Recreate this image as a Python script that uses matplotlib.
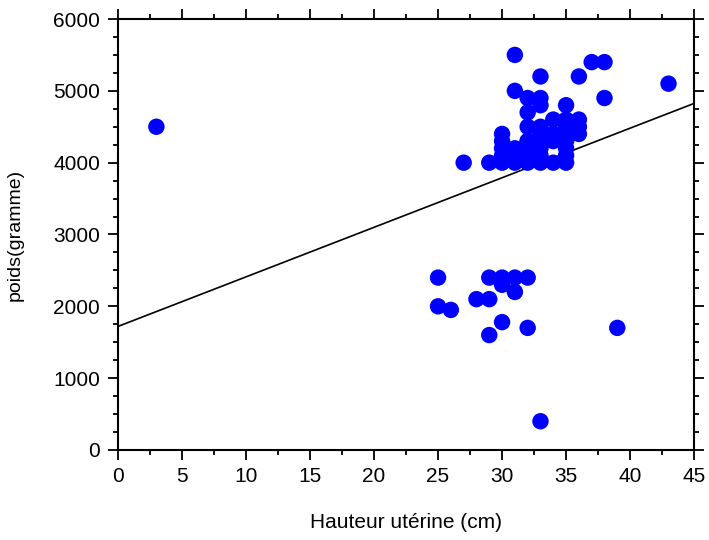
import numpy as np
import matplotlib.pyplot as plt
from matplotlib.ticker import MultipleLocator

# Hauteur utérine (cm) et poids (gramme)
hauteur = [3, 27, 29,
           30, 30, 30, 30, 30,
           31, 31, 31, 31, 31,
           32, 32, 32, 32, 32, 32, 32, 32,
           33, 33, 33, 33, 33, 33, 33, 33, 33,
           34, 34, 34, 34,
           35, 35, 35, 35, 35, 35, 35, 35,
           36, 36, 36, 36,
           37, 38, 38, 43,
           25, 25, 26, 28, 29, 29, 29, 30, 30, 30, 31, 31, 32, 32, 33, 39]
poids = [4500, 4000, 4000,
         4400, 4300, 4200, 4100, 4000,
         5500, 5000, 4200, 4100, 4000,
         4900, 4700, 4500, 4300, 4200, 4100, 4000, 4300,
         5200, 4900, 4800, 4500, 4400, 4300, 4200, 4100, 4000,
         4600, 4400, 4300, 4000,
         4800, 4600, 4500, 4400, 4300, 4200, 4100, 4000,
         5200, 4600, 4500, 4400,
         5400, 5400, 4900, 5100,
         2400, 2000, 1950, 2100, 2400, 2100, 1600, 2400, 2300, 1780, 2400, 2200, 2400, 1700, 400, 1700]

# droite de régression affichée
intercept = 1720
pente = 69

plt.rcParams['font.family'] = ['Liberation Sans', 'DejaVu Sans']

fig = plt.figure(figsize=(7.09, 5.40), dpi=100)
ax = fig.add_axes([0.1664, 0.1667, 0.8126, 0.7981])

ax.scatter(hauteur, poids, s=140, color='#0000ff', edgecolors='none', zorder=3)
xs = np.array([0, 45])
ax.plot(xs, intercept + pente * xs, color='black', lw=1.2, zorder=2)

ax.set_xlim(0, 45)
ax.set_ylim(0, 6000)
ax.xaxis.set_major_locator(MultipleLocator(5))
ax.xaxis.set_minor_locator(MultipleLocator(2.5))
ax.yaxis.set_major_locator(MultipleLocator(1000))
ax.yaxis.set_minor_locator(MultipleLocator(250))

for s in ax.spines.values():
    s.set_linewidth(1.5)
ax.tick_params(which='both', direction='out', top=True, right=True, width=1.3,
               labelsize=15)
ax.tick_params(which='major', length=7)
ax.tick_params(which='minor', length=3.5)
ax.tick_params(axis='x', pad=5)
ax.tick_params(axis='y', pad=6)

ax.set_xlabel('Hauteur utérine (cm)', fontsize=15, labelpad=20)
ax.set_ylabel('poids(gramme)', fontsize=14, labelpad=21)

fig.savefig('out.png', dpi=100)
